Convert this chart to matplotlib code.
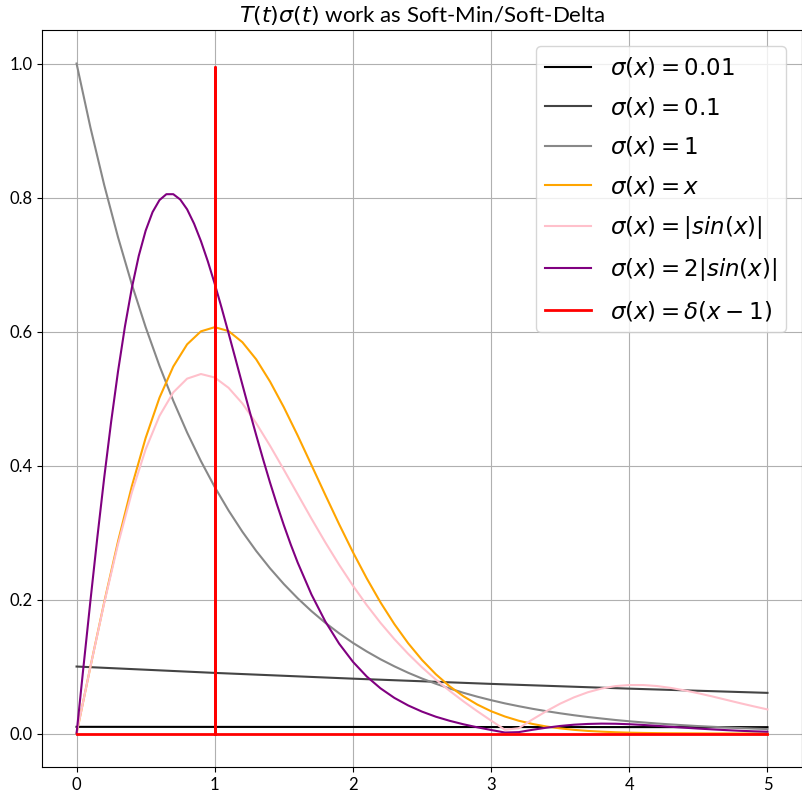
import matplotlib.pyplot as plt

plt.rcParams["font.family"] = ["Lato", "DejaVu Sans"]
plt.rcParams["axes.axisbelow"] = True

# sample points
x = [round(0.1 * i, 1) for i in range(51)]
x_flat = [0, 1, 2, 3, 4, 5]
# finer sampling around the sharp purple peak
x_fine = [round(0.05 * i, 2) for i in range(33)] + [round(0.1 * i, 1) for i in range(17, 51)]

sig_001 = [0.0100, 0.0099, 0.0098, 0.0097, 0.0096, 0.0095]
sig_01 = [0.1000, 0.0905, 0.0819, 0.0741, 0.0670, 0.0607]
sig_1 = [
    1.0, 0.9048, 0.8187, 0.7408, 0.6703, 0.6065, 0.5488, 0.4966, 0.4493, 0.4066,
    0.3679, 0.3329, 0.3012, 0.2725, 0.2466, 0.2231, 0.2019, 0.1827, 0.1653, 0.1496,
    0.1353, 0.1225, 0.1108, 0.1003, 0.0907, 0.0821, 0.0743, 0.0672, 0.0608, 0.0550,
    0.0498, 0.0450, 0.0408, 0.0369, 0.0334, 0.0302, 0.0273, 0.0247, 0.0224, 0.0202,
    0.0183, 0.0166, 0.0150, 0.0136, 0.0123, 0.0111, 0.0101, 0.0091, 0.0082, 0.0074,
    0.0067,
]
sig_x = [
    0.0, 0.0995, 0.1960, 0.2868, 0.3692, 0.4412, 0.5012, 0.5478, 0.5809, 0.6003,
    0.6065, 0.6007, 0.5841, 0.5585, 0.5254, 0.4870, 0.4449, 0.4007, 0.3562, 0.3125,
    0.2707, 0.2316, 0.1956, 0.1633, 0.1347, 0.1098, 0.0885, 0.0705, 0.0556, 0.0433,
    0.0333, 0.0254, 0.0191, 0.0143, 0.0105, 0.0077, 0.0055, 0.0039, 0.0028, 0.0019,
    0.0013, 0.0009, 0.0006, 0.0004, 0.0003, 0.0002, 0.0001, 0.0001, 0.0, 0.0,
    0.0,
]
sig_sin = [
    0.0, 0.0993, 0.1948, 0.2826, 0.3598, 0.4242, 0.4741, 0.5092, 0.5297, 0.5366,
    0.5314, 0.5160, 0.4927, 0.4632, 0.4296, 0.3938, 0.3572, 0.3207, 0.2854, 0.2520,
    0.2207, 0.1917, 0.1651, 0.1409, 0.1189, 0.0988, 0.0805, 0.0637, 0.0480, 0.0333,
    0.0193, 0.0056, 0.0079, 0.0211, 0.0334, 0.0446, 0.0540, 0.0616, 0.0672, 0.0708,
    0.0724, 0.0724, 0.0709, 0.0681, 0.0644, 0.0601, 0.0554, 0.0504, 0.0454, 0.0406,
    0.0360,
]
sig_2sin = [
    0.0, 0.0997, 0.1976, 0.2922, 0.3819, 0.4650, 0.5405, 0.6075, 0.6651, 0.7129,
    0.7506, 0.7783, 0.7962, 0.8050, 0.8050, 0.7971, 0.7824, 0.7612, 0.7350, 0.7047,
    0.6712, 0.6351, 0.5975, 0.5593, 0.5208, 0.4826, 0.4454, 0.4093, 0.3746, 0.3419,
    0.3110, 0.2821, 0.2553,
    0.2075, 0.1673, 0.1342,
    0.1071, 0.0851, 0.0674, 0.0532, 0.0419, 0.0327, 0.0251, 0.0190, 0.0138, 0.0093,
    0.0053, 0.0015, 0.0021, 0.0056, 0.0087, 0.0113, 0.0132, 0.0143, 0.0148, 0.0146,
    0.0139, 0.0128, 0.0115, 0.0101, 0.0087, 0.0074, 0.0062, 0.0051, 0.0041, 0.0033,
    0.0027,
]
delta_x = [0, 1, 1, 1, 5]
delta_y = [0, 0, 0.995, 0, 0]

fig = plt.figure(figsize=(8.02, 7.97), dpi=100)
ax = fig.add_axes([0.0524, 0.0376, 0.9476, 0.9247])

ax.plot(x_flat, sig_001, color="black", label=r"$\sigma(x) = 0.01$")
ax.plot(x_flat, sig_01, color="#444444", label=r"$\sigma(x) = 0.1$")
ax.plot(x, sig_1, color="#888888", label=r"$\sigma(x) = 1$")
ax.plot(x, sig_x, color="orange", label=r"$\sigma(x) = x$")
ax.plot(x, sig_sin, color="pink", label=r"$\sigma(x) = |sin(x)|$")
ax.plot(x_fine, sig_2sin, color="purple", label=r"$\sigma(x) = 2|sin(x)|$")
ax.plot(delta_x, delta_y, color="red", linewidth=2, label=r"$\sigma(x) = \delta(x-1)$")

ax.grid(True)
ax.tick_params(labelsize=12)
ax.set_title(r"$T(t)\sigma(t)$ work as Soft-Min/Soft-Delta", fontsize=16)
ax.legend(loc="upper right", fontsize=16.5, labelspacing=0.68, borderaxespad=0.7)

fig.savefig("out.png", dpi=100)
